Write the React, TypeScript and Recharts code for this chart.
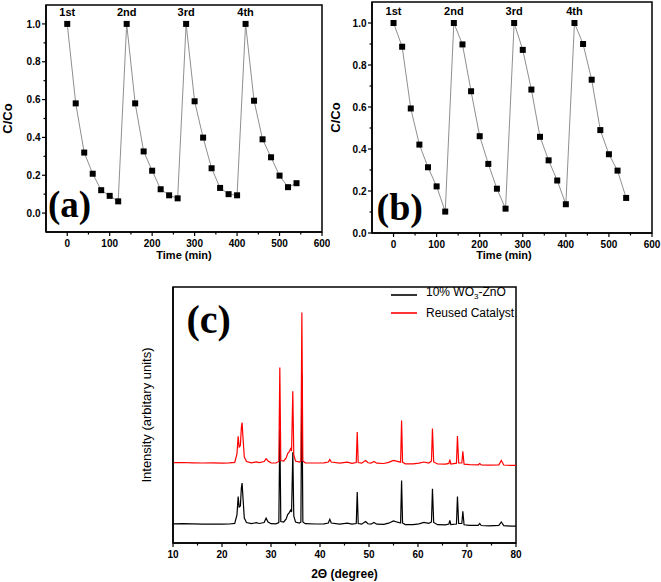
import { LineChart, Line, XAxis, YAxis, ReferenceArea, LabelList, Legend } from 'recharts'

// photodegradation cycles, C/Co vs time (min)
const times = [0, 20, 40, 60, 80, 100, 120, 140, 160, 180, 200, 220, 240, 260, 280, 300, 320, 340, 360, 380, 400, 420, 440, 460, 480, 500, 520, 540]
const ratioA = [1.0, 0.58, 0.32, 0.208, 0.121, 0.091, 0.062, 1.0, 0.58, 0.326, 0.224, 0.126, 0.094, 0.078, 1.0, 0.591, 0.399, 0.237, 0.133, 0.1, 0.094, 1.0, 0.594, 0.39, 0.295, 0.198, 0.137, 0.158]
const ratioB = [1.0, 0.887, 0.593, 0.421, 0.313, 0.222, 0.102, 1.0, 0.898, 0.675, 0.461, 0.329, 0.211, 0.116, 1.0, 0.872, 0.683, 0.458, 0.346, 0.25, 0.137, 1.0, 0.9, 0.73, 0.49, 0.375, 0.297, 0.167]
const cycleLabels = ['1st', '2nd', '3rd', '4th']
const cycleStarts = [0, 140, 280, 420]
const timeTicks = [0, 50, 100, 150, 200, 250, 300, 350, 400, 450, 500, 550, 600]
const ratioTicks = [0, 0.1, 0.2, 0.3, 0.4, 0.5, 0.6, 0.7, 0.8, 0.9, 1.0]

// XRD patterns (intensity in arbitrary units)
const twoTheta = [10, 12, 14, 16, 18, 20, 21.5, 22.6, 23.05, 23.3, 23.5, 23.75, 23.95, 24.1, 24.3, 24.55, 25, 26, 27, 27.6, 28.6, 29, 29.4, 30, 31, 31.6, 31.8, 32, 32.6, 33.1, 33.4, 33.7, 34, 34.2, 34.45, 34.65, 35, 35.8, 36.1, 36.3, 36.5, 37, 39, 40.8, 41.7, 42, 42.3, 44, 45.6, 46.5, 47.4, 47.6, 47.8, 48.5, 49.3, 49.8, 50.4, 51, 51.6, 53, 54, 55, 55.8, 56.45, 56.65, 56.85, 57.4, 59, 60.2, 61.2, 62.2, 62.75, 62.95, 63.2, 64, 65.6, 66.3, 66.5, 66.7, 67.85, 68.05, 68.3, 68.95, 69.15, 69.4, 70.5, 72.3, 72.6, 72.9, 74.5, 76.5, 77, 77.5, 79, 80]
const pristine = [19.2, 19.4, 19.1, 18.9, 19, 18.8, 19, 19.6, 28, 46.5, 36, 37, 55, 59.9, 44, 25, 20.5, 19.3, 20.3, 19.5, 20.5, 24.8, 21, 19.3, 19.2, 20.5, 114.5, 21.5, 21, 24, 28.5, 30, 33, 31, 90.8, 27, 21, 20, 21, 169.6, 21, 19.3, 19, 19.2, 20, 23.7, 20, 18.8, 19.8, 18.8, 19.5, 50.9, 19.5, 18.8, 21.5, 19.2, 18.8, 20.5, 18.8, 18.6, 19.8, 22, 20.8, 20, 62.6, 20, 18.4, 18.3, 19.2, 20.6, 19.6, 21, 54.2, 20.5, 18.3, 18.2, 19, 22.5, 18.3, 19, 46.5, 19.5, 19.5, 31.8, 18.2, 17.6, 17.6, 19.5, 17.5, 17.2, 17.6, 21, 17.4, 16.9, 16.8]
const reused = [80.3, 80.5, 80.2, 80, 80.1, 79.9, 80.1, 80.6, 89, 106.7, 96, 97.5, 115.5, 120.4, 104, 86, 81.5, 80.2, 81.2, 80.4, 81.5, 84.3, 82, 80.2, 80, 81.5, 175.5, 82.5, 82, 85, 89.5, 91, 94.3, 92, 151.8, 88, 82, 81, 82, 230.6, 82, 80.2, 80, 80.2, 81, 83.6, 81, 79.8, 80.8, 79.7, 80.5, 111, 80.5, 79.8, 82.5, 80.2, 79.8, 81.5, 79.8, 79.5, 80.6, 82.6, 81.6, 80.8, 122.4, 80.8, 79.2, 79.1, 79.8, 81, 80, 82, 114.4, 81, 79, 78.8, 79.6, 83.3, 79, 79.8, 107, 80, 80, 91.7, 78.8, 78.3, 78.2, 79.5, 78.1, 77.8, 78.2, 82.6, 78, 77.6, 77.6]
const seriesNames = ['10% WO3-ZnO', 'Reused Catalyst']
const thetaTicks = [10, 15, 20, 25, 30, 35, 40, 45, 50, 55, 60, 65, 70, 75, 80]

const sans = '"Liberation Sans", Arial, sans-serif'
const serif = '"Liberation Serif", "Times New Roman", serif'
const TS = 4
const TM = 2

const tableA = times.map((t, i) => ({ t, r: ratioA[i], tag: cycleLabels[cycleStarts.indexOf(t)] }))
const tableB = times.map((t, i) => ({ t, r: ratioB[i], tag: cycleLabels[cycleStarts.indexOf(t)] }))
const tableC = twoTheta.map((x, i) => ({ x, a: pristine[i], b: reused[i] }))

// eslint-disable-next-line @typescript-eslint/no-explicit-any
const BottomTick = ({ x, y, payload, major, fmt, fs }: any) => {
  const y0 = y - TS - TM
  const isMajor = major(payload.value)
  return (
    <g>
      <line x1={x} y1={y0} x2={x} y2={y0 + (isMajor ? 4 : 2.5)} stroke="#000" strokeWidth={1.2} />
      {isMajor && (
        <text x={x} y={y0 + 14.5} textAnchor="middle" fontSize={fs} fontWeight="bold" fontFamily={sans} fill="#000">
          {fmt(payload.value)}
        </text>
      )}
    </g>
  )
}

// eslint-disable-next-line @typescript-eslint/no-explicit-any
const LeftTick = ({ x, y, payload }: any) => {
  const x0 = x + TS + TM
  const isMajor = Math.round(payload.value * 10) % 2 === 0
  return (
    <g>
      <line x1={x0} y1={y} x2={x0 - (isMajor ? 4 : 2.5)} y2={y} stroke="#000" strokeWidth={1.2} />
      {isMajor && (
        <text x={x0 - 5.5} y={y + 3.6} textAnchor="end" fontSize={10} fontWeight="bold" fontFamily={sans} fill="#000">
          {payload.value.toFixed(1)}
        </text>
      )}
    </g>
  )
}

// eslint-disable-next-line @typescript-eslint/no-explicit-any
const SquareDot = (p: any) => (
  <rect key={`sq-${p.index}`} x={p.cx - 3} y={p.cy - 3} width={6} height={6} fill="#000" />
)

const legendName = (n: string) => {
  const parts = n.split('WO3')
  if (parts.length < 2) return n
  return <>{parts[0]}WO<sub style={{ fontSize: 8 }}>3</sub>{parts[1]}</>
}

// eslint-disable-next-line @typescript-eslint/no-explicit-any
const XrdLegend = ({ payload }: any) => (
  <div>
    {(payload || []).map((e: any, i: number) => (
      <div key={i} style={{ display: 'flex', alignItems: 'center', height: 18.3 }}>
        <svg width={26} height={4} style={{ display: 'block' }}>
          <line x1={0} y1={2} x2={26} y2={2} stroke={e.color} strokeWidth={1.6} />
        </svg>
        <span style={{ marginLeft: 9, fontSize: 12, fontFamily: sans, color: '#000', lineHeight: '18px' }}>
          {legendName(e.value)}
        </span>
      </div>
    ))}
  </div>
)

const timeMajor = (v: number) => v % 100 === 0

function CyclePanel({ data, width, yDomain, plotTop, yWidth, rightGap, xHeight, ylabelOff, xlabelDx }: any) {
  return (
    <LineChart width={width} height={270} data={data} margin={{ top: plotTop, right: rightGap, left: 0, bottom: 0 }}>
      <ReferenceArea x1={-50} x2={600} y1={yDomain[0]} y2={yDomain[1]} fill="none" stroke="#000" strokeWidth={1.5} />
      <XAxis
        dataKey="t" type="number" domain={[-50, 600]} allowDataOverflow ticks={timeTicks} interval={0}
        tickSize={TS} tickMargin={TM} tickLine={false} height={xHeight}
        axisLine={{ stroke: '#000', strokeWidth: 1.5 }}
        tick={(p: any) => <BottomTick {...p} major={timeMajor} fmt={(v: number) => `${v}`} fs={10} />}
        label={{ value: 'Time (min)', position: 'insideBottom', offset: 11, dx: xlabelDx, fill: '#000', fontSize: 11, fontWeight: 'bold', fontFamily: sans }}
      />
      <YAxis
        type="number" domain={yDomain} allowDataOverflow ticks={ratioTicks} interval={0}
        tickSize={TS} tickMargin={TM} tickLine={false} width={yWidth}
        axisLine={{ stroke: '#000', strokeWidth: 1.5 }}
        tick={(p: any) => <LeftTick {...p} />}
        label={{ value: 'C/Co', angle: -90, position: 'insideLeft', offset: ylabelOff, fill: '#000', fontSize: 13, fontWeight: 'bold', fontFamily: sans, style: { textAnchor: 'middle' } }}
      />
      <Line dataKey="r" type="linear" stroke="#8f8f8f" strokeWidth={1} dot={SquareDot} activeDot={false} isAnimationActive={false}>
        <LabelList dataKey="tag" position="top" offset={8} fill="#000" fontSize={11} fontWeight="bold" fontFamily={sans} />
      </Line>
    </LineChart>
  )
}

export default function App() {
  return (
    <div style={{ position: 'absolute', left: 0, top: 0, width: 661, height: 582, background: '#fff' }}>
      <div style={{ position: 'absolute', left: 0, top: 0 }}>
        <CyclePanel data={tableA} width={330} yDomain={[-0.1, 1.1]} plotTop={5} yWidth={46} rightGap={8} xHeight={38} ylabelOff={7.5} xlabelDx={0} />
      </div>
      <div style={{ position: 'absolute', left: 320, top: 0 }}>
        <CyclePanel data={tableB} width={341} yDomain={[0, 1.1]} plotTop={2} yWidth={52} rightGap={9} xHeight={37} ylabelOff={15.5} xlabelDx={-8} />
      </div>
      <div style={{ position: 'absolute', left: 0, top: 260 }}>
        <LineChart width={661} height={322} data={tableC} margin={{ top: 27, right: 145, left: 0, bottom: 0 }}>
          <ReferenceArea x1={10} x2={80} y1={0} y2={256} fill="none" stroke="#000" strokeWidth={1.5} />
          <XAxis
            dataKey="x" type="number" domain={[10, 80]} allowDataOverflow ticks={thetaTicks} interval={0}
            tickSize={TS} tickMargin={TM} tickLine={false} height={39}
            axisLine={{ stroke: '#000', strokeWidth: 1.5 }}
            tick={(p: any) => <BottomTick {...p} major={(v: number) => v % 10 === 0} fmt={(v: number) => `${v}`} fs={10} />}
            label={{ value: '2Θ (degree)', position: 'insideBottom', offset: 4.5, fill: '#000', fontSize: 12, fontWeight: 'bold', fontFamily: sans }}
          />
          <YAxis
            type="number" domain={[0, 256]} allowDataOverflow tick={false} tickLine={false} width={173}
            axisLine={{ stroke: '#000', strokeWidth: 1.5 }}
            label={{ value: 'Intensity (arbitary units)', angle: -90, position: 'insideLeft', offset: 146, fill: '#000', fontSize: 13, fontFamily: sans, style: { textAnchor: 'middle' } }}
          />
          <Legend layout="vertical" align="center" verticalAlign="middle" wrapperStyle={{ left: 391, top: 26, width: 140 }} content={<XrdLegend />} />
          <Line name={seriesNames[0]} dataKey="a" type="linear" stroke="#000" strokeWidth={1.2} dot={false} activeDot={false} isAnimationActive={false} />
          <Line name={seriesNames[1]} dataKey="b" type="linear" stroke="#ff0000" strokeWidth={1.2} dot={false} activeDot={false} isAnimationActive={false} />
        </LineChart>
      </div>
      <svg width={661} height={582} style={{ position: 'absolute', left: 0, top: 0, pointerEvents: 'none' }}>
        <text x={48} y={217} fontSize={37} fontWeight="bold" fontFamily={serif} fill="#000">(a)</text>
        <text x={376.5} y={220} fontSize={38} fontWeight="bold" fontFamily={serif} fill="#000">(b)</text>
        <text x={186.5} y={333} fontSize={40} fontWeight="bold" fontFamily={serif} fill="#000">(c)</text>
      </svg>
    </div>
  )
}
